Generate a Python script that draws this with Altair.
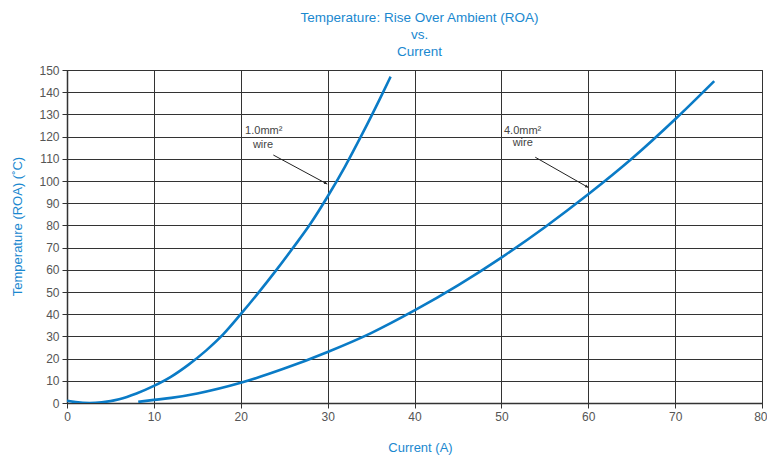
import altair as alt
import pandas as pd

# ---- data ----
cur_1mm = [0, 1, 2.6, 4, 6, 8, 10, 12, 14, 16, 18, 20, 22, 24, 26, 28, 30, 32, 34, 36, 37.25]
temp_1mm = [1, 0.4, 0, 0.3, 1.7, 4.3, 7.7, 11.9, 17.3, 23.6, 31.0, 40, 49.5, 59.4, 69.8, 80.6, 93, 106.5, 121.3, 136.9, 147]

cur_4mm = [8.2, 10, 12, 15, 20, 25, 30, 35, 40, 45, 50, 55, 60, 65, 70, 74.5]
temp_4mm = [0.5, 1.4, 2.3, 4.3, 9.1, 15.5, 23, 31.5, 41.7, 53, 65.5, 79.2, 94, 110, 127.8, 145]

label_text = ["1.0mm²", "wire", "4.0mm²", "wire"]
label_x = [20.5, 21.4, 50.3, 51.3]
label_y = [122.5, 116, 122.5, 117]

arrow_x = [23.75, 53.9]
arrow_y = [111.7, 110.7]
arrow_x2 = [29.96, 60.0]
arrow_y2 = [98.6, 97.1]
arrow_angle = [28, 29]

x_ticks = list(range(0, 81, 10))
y_ticks = list(range(0, 151, 10))

BLUE_TEXT = "#1a88cf"
BLUE_LINE = "#0a7bc6"
FONT = "Liberation Sans"
W, H = 695, 333

curves = pd.DataFrame(
    {"current": cur_1mm + cur_4mm,
     "temp": temp_1mm + temp_4mm,
     "series": ["1.0mm2"] * len(cur_1mm) + ["4.0mm2"] * len(cur_4mm)}
)
labels = pd.DataFrame({"x": label_x, "y": label_y, "text": label_text})
arrows = pd.DataFrame({"x": arrow_x, "y": arrow_y, "x2": arrow_x2, "y2": arrow_y2, "angle": arrow_angle})

xscale = alt.Scale(domain=[0, 80], nice=False, zero=False)
yscale = alt.Scale(domain=[0, 150], nice=False, zero=False)

xaxis = alt.Axis(values=x_ticks, title="Current (A)", titleX=353, titleY=44,
                 titleBaseline="middle", titleAlign="center", labelOverlap=False,
                 labelFlush=False,
                 labelAlign={"condition": {"test": "datum.value === 80", "value": "right"},
                             "value": "center"},
                 labelOffset={"condition": {"test": "datum.value === 80", "value": 5},
                              "value": 0})
yaxis = alt.Axis(values=y_ticks, title="Temperature (ROA) (˚C)", titleX=-50, titleY=156,
                 titleBaseline="middle", titleAlign="center", titleAngle=-90,
                 labelOverlap=False, labelFlush=False)


def X(field):
    return alt.X(field, type="quantitative", scale=xscale, axis=xaxis)


def Y(field):
    return alt.Y(field, type="quantitative", scale=yscale, axis=yaxis)


lines = alt.Chart(curves).mark_line(
    color=BLUE_LINE, strokeWidth=2.6, interpolate="monotone", clip=True
).encode(x=X("current"), y=Y("temp"), detail="series:N")

texts = alt.Chart(labels).mark_text(
    align="left", baseline="middle", font=FONT, fontSize=11, color="#444"
).encode(x=X("x"), y=Y("y"), text="text:N")

rules = alt.Chart(arrows).mark_rule(color="#222", strokeWidth=1).encode(
    x=X("x"), y=Y("y"), x2="x2:Q", y2="y2:Q"
)

heads = alt.Chart(arrows).mark_point(
    shape="M-1,-0.5L0,0L-1,0.5Z", filled=True, color="#222", size=40, opacity=1
).encode(x=X("x2"), y=Y("y2"), angle=alt.Angle("angle:Q", scale=None))

chart = alt.layer(lines, rules, heads, texts).properties(
    width=W, height=H,
    autosize=alt.AutoSizeParams(type="none"),
    padding={"left": 59, "top": 62, "right": 5, "bottom": 53},
    title=alt.TitleParams(
        text=["Temperature: Rise Over Ambient (ROA)", "vs.", "Current"],
        font=FONT, fontSize=13.5, fontWeight="normal", color=BLUE_TEXT,
        lineHeight=17, anchor="middle", frame="group", offset=6, dx=5,
    ),
).configure_axis(
    grid=True, gridColor="#333", gridOpacity=1, gridWidth=1,
    domainColor="#333", domainWidth=1.5,
    tickColor="#333", tickSize=5, tickWidth=1,
    labelFont=FONT, labelFontSize=12, labelColor="#555", labelPadding=3,
    titleFont=FONT, titleFontSize=13, titleFontWeight="normal", titleColor=BLUE_TEXT,
).configure_view(stroke="#333", strokeWidth=1)

chart.save("out.html", embed_options={"renderer": "svg", "actions": False})
